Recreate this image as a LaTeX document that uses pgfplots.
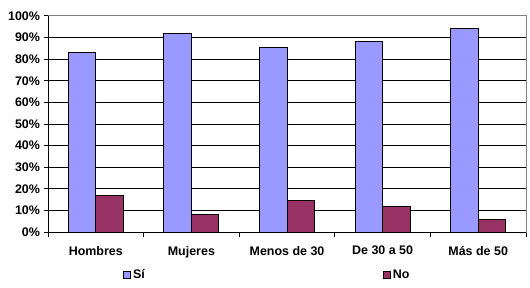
\documentclass[border=0pt]{standalone}
\usepackage{pgfplots}
\pgfplotsset{compat=1.18}
\usepackage{fontspec}
\setmainfont{Liberation Sans}
\definecolor{si}{HTML}{9999FF}
\definecolor{no}{HTML}{993366}
\begin{document}
\begin{tikzpicture}
\path[use as bounding box] (-48bp,-56bp) rectangle (482bp,232bp);
\begin{axis}[
  at={(0,0)}, anchor=south west,
  scale only axis, width=478bp, height=216bp,
  ymin=0, ymax=100, xmin=0.5, xmax=5.5,
  ybar=0pt, bar width=27.5bp,
  ytick={0,10,...,90}, extra y ticks={100}, extra y tick style={grid=none},
  ymajorgrids, major grid style={black, line width=1bp},
  yticklabel={\pgfmathprintnumber{\tick}\%},
  /pgf/number format/assume math mode=true,
  xtick={1,...,5},
  xticklabels={Hombres,Mujeres,Menos de 30,De 30 a 50,Más de 50},
  major x tick style={draw=none},
  minor xtick={0.5,1.5,...,5.5},
  tick align=outside, major tick length=4.5bp, minor tick length=4.5bp,
  ytick pos=left, xtick pos=bottom,
  axis line style={gray, line width=1bp},
  tick style={black, line width=1bp},
  ticklabel style={font=\bfseries\fontsize{12.5}{14}\selectfont},
  xticklabel style={yshift=-6bp},
  legend columns=2,
  legend style={draw=none, fill=none, at={(axis description cs:0,0)}, anchor=west,
    xshift=72bp, yshift=-43bp, font=\bfseries\fontsize{12.5}{14}\selectfont,
    /tikz/every even column/.append style={column sep=236bp},
    nodes={inner sep=2bp}},
  legend image code/.code={\draw[#1, line width=1bp] (0bp,-3.5bp) rectangle (7bp,3.5bp);},
]
\addplot[fill=si, draw=black, line width=1bp] coordinates {(1,83) (2,92) (3,85.5) (4,88) (5,94)};
\addplot[fill=no, draw=black, line width=1bp] coordinates {(1,17) (2,8) (3,14.5) (4,12) (5,6)};
\legend{Sí,No}
\end{axis}
\draw[black, line width=1bp] (0,0) -- (0,216bp);
\draw[black, line width=1bp] (0,0) -- (478bp,0);
\end{tikzpicture}
\end{document}
